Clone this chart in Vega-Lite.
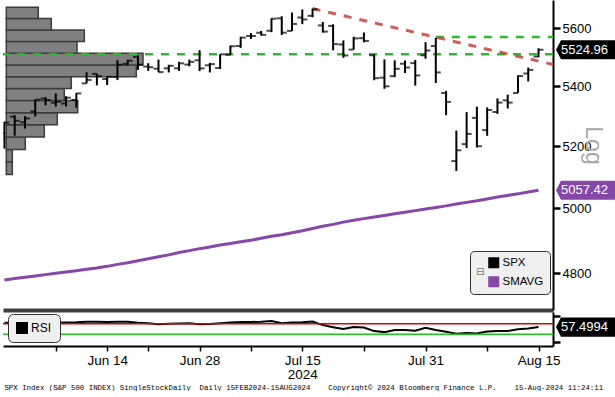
{
  "$schema": "https://vega.github.io/schema/vega-lite/v6.json",
  "padding": 0,
  "background": "white",
  "spacing": 2,
  "config": {"view": {"stroke": null}, "font": "Liberation Sans"},
  "title": {
    "text": "SPX Index (S&P 500 INDEX) SingleStockDaily\u00a0\u00a0Daily 15FEB2024-15AUG2024\u00a0\u00a0\u00a0\u00a0Copyright© 2024 Bloomberg Finance L.P.\u00a0\u00a0\u00a0\u00a015-Aug-2024 11:24:11",
    "orient": "bottom", "anchor": "start", "font": "Liberation Mono", "fontSize": 7.4,
    "fontWeight": "normal", "color": "#000000", "offset": 3, "dx": 4
  },
  "resolve": {"scale": {"color": "independent"}, "legend": {"color": "independent"}},
  "datasets": {
    "spx": [
      {"i":0,"o":5243.21,"h":5280.33,"l":5191.68,"c":5277.51,"ma":4780,"rsi":74},
      {"i":1,"o":5297.15,"h":5302.11,"l":5234.32,"c":5283.40,"ma":4784,"rsi":73},
      {"i":2,"o":5278.24,"h":5298.80,"l":5257.63,"c":5291.34,"ma":4788,"rsi":73},
      {"i":3,"o":5314.48,"h":5354.16,"l":5297.64,"c":5354.03,"ma":4792,"rsi":76},
      {"i":4,"o":5357.80,"h":5362.35,"l":5335.36,"c":5352.96,"ma":4796,"rsi":75},
      {"i":5,"o":5343.81,"h":5375.08,"l":5331.33,"c":5346.99,"ma":4800,"rsi":74},
      {"i":6,"o":5341.22,"h":5365.79,"l":5331.52,"c":5360.79,"ma":4804,"rsi":75},
      {"i":7,"o":5353.00,"h":5375.95,"l":5327.25,"c":5375.32,"ma":4808,"rsi":76},
      {"i":8,"o":5409.13,"h":5447.25,"l":5409.13,"c":5421.03,"ma":4812,"rsi":78},
      {"i":9,"o":5441.93,"h":5441.93,"l":5402.51,"c":5433.74,"ma":4816,"rsi":78},
      {"i":10,"o":5424.08,"h":5432.39,"l":5403.75,"c":5431.60,"ma":4821,"rsi":77},
      {"i":11,"o":5431.11,"h":5488.50,"l":5420.40,"c":5473.23,"ma":4827,"rsi":78},
      {"i":12,"o":5476.15,"h":5490.38,"l":5471.32,"c":5487.03,"ma":4832,"rsi":78},
      {"i":13,"o":5499.99,"h":5505.53,"l":5455.56,"c":5473.17,"ma":4838,"rsi":74},
      {"i":14,"o":5466.77,"h":5478.31,"l":5452.03,"c":5464.62,"ma":4844,"rsi":72},
      {"i":15,"o":5459.58,"h":5490.66,"l":5447.59,"c":5447.87,"ma":4850,"rsi":68},
      {"i":16,"o":5460.73,"h":5472.88,"l":5446.56,"c":5469.30,"ma":4856,"rsi":70},
      {"i":17,"o":5460.71,"h":5483.14,"l":5451.87,"c":5477.90,"ma":4863,"rsi":71},
      {"i":18,"o":5473.59,"h":5490.81,"l":5467.54,"c":5482.87,"ma":4869,"rsi":72},
      {"i":19,"o":5488.48,"h":5523.64,"l":5451.12,"c":5460.48,"ma":4875,"rsi":68},
      {"i":20,"o":5471.08,"h":5479.55,"l":5446.53,"c":5475.09,"ma":4880,"rsi":69},
      {"i":21,"o":5461.84,"h":5509.69,"l":5458.43,"c":5509.01,"ma":4886,"rsi":72},
      {"i":22,"o":5507.44,"h":5539.27,"l":5507.42,"c":5537.02,"ma":4891,"rsi":75},
      {"i":23,"o":5537.91,"h":5570.33,"l":5531.63,"c":5567.19,"ma":4896,"rsi":77},
      {"i":24,"o":5572.75,"h":5583.11,"l":5562.51,"c":5572.85,"ma":4901,"rsi":77},
      {"i":25,"o":5584.24,"h":5590.75,"l":5574.57,"c":5576.98,"ma":4907,"rsi":78},
      {"i":26,"o":5591.26,"h":5635.39,"l":5586.44,"c":5633.91,"ma":4913,"rsi":81},
      {"i":27,"o":5635.21,"h":5642.45,"l":5576.53,"c":5584.54,"ma":4918,"rsi":72},
      {"i":28,"o":5590.76,"h":5655.56,"l":5590.44,"c":5615.35,"ma":4924,"rsi":75},
      {"i":29,"o":5638.16,"h":5666.94,"l":5614.75,"c":5631.22,"ma":4930,"rsi":76},
      {"i":30,"o":5644.09,"h":5669.67,"l":5639.02,"c":5667.20,"ma":4937,"rsi":79},
      {"i":31,"o":5610.07,"h":5622.49,"l":5584.81,"c":5588.27,"ma":4944,"rsi":65},
      {"i":32,"o":5608.56,"h":5614.05,"l":5522.81,"c":5544.59,"ma":4950,"rsi":57},
      {"i":33,"o":5543.37,"h":5557.50,"l":5497.04,"c":5505.00,"ma":4957,"rsi":50},
      {"i":34,"o":5525.37,"h":5570.36,"l":5525.37,"c":5564.41,"ma":4963,"rsi":58},
      {"i":35,"o":5565.30,"h":5585.34,"l":5550.90,"c":5555.74,"ma":4968,"rsi":56},
      {"i":36,"o":5505.84,"h":5508.04,"l":5419.98,"c":5427.13,"ma":4973,"rsi":42},
      {"i":37,"o":5428.70,"h":5491.59,"l":5390.95,"c":5399.22,"ma":4978,"rsi":38},
      {"i":38,"o":5433.67,"h":5488.32,"l":5430.70,"c":5459.10,"ma":4983,"rsi":46},
      {"i":39,"o":5476.55,"h":5487.74,"l":5444.44,"c":5463.54,"ma":4988,"rsi":46},
      {"i":40,"o":5478.73,"h":5489.46,"l":5401.71,"c":5436.44,"ma":4993,"rsi":43},
      {"i":41,"o":5505.59,"h":5551.51,"l":5493.75,"c":5522.30,"ma":4998,"rsi":55},
      {"i":42,"o":5537.84,"h":5566.16,"l":5410.42,"c":5446.68,"ma":5003,"rsi":46},
      {"i":43,"o":5376.63,"h":5383.89,"l":5302.03,"c":5346.56,"ma":5008,"rsi":39},
      {"i":44,"o":5151.14,"h":5250.89,"l":5119.26,"c":5186.33,"ma":5014,"rsi":32},
      {"i":45,"o":5206.42,"h":5312.34,"l":5193.56,"c":5240.03,"ma":5019,"rsi":35},
      {"i":46,"o":5293.13,"h":5330.64,"l":5195.54,"c":5199.50,"ma":5024,"rsi":33},
      {"i":47,"o":5252.57,"h":5328.03,"l":5233.85,"c":5319.31,"ma":5030,"rsi":40},
      {"i":48,"o":5312.70,"h":5358.45,"l":5306.42,"c":5344.16,"ma":5036,"rsi":42},
      {"i":49,"o":5351.88,"h":5371.20,"l":5324.37,"c":5344.39,"ma":5041,"rsi":42},
      {"i":50,"o":5376.98,"h":5436.50,"l":5376.98,"c":5434.43,"ma":5046,"rsi":49},
      {"i":51,"o":5442.88,"h":5463.22,"l":5415.89,"c":5455.21,"ma":5052,"rsi":52},
      {"i":52,"o":5501.13,"h":5530.00,"l":5499.50,"c":5524.96,"ma":5057.42,"rsi":57.4994}
    ],
    "profile": [
      {"lo":5108,"hi":5148.5,"vol":0.6},
      {"lo":5148.5,"hi":5189,"vol":0.6},
      {"lo":5189,"hi":5229.5,"vol":1.9},
      {"lo":5229.5,"hi":5270,"vol":3.8},
      {"lo":5270,"hi":5310.5,"vol":5.1},
      {"lo":5310.5,"hi":5351,"vol":7.14},
      {"lo":5351,"hi":5391.5,"vol":5.8},
      {"lo":5391.5,"hi":5432,"vol":6.5},
      {"lo":5432,"hi":5472.5,"vol":13.0},
      {"lo":5472.5,"hi":5513,"vol":13.67},
      {"lo":5513,"hi":5553.5,"vol":7.07},
      {"lo":5553.5,"hi":5594,"vol":7.8},
      {"lo":5594,"hi":5634.5,"vol":4.5},
      {"lo":5634.5,"hi":5675,"vol":3.2}
    ],
    "poc": [{"v":5509.2}],
    "resist": [{"d0":42,"d1":53.41,"v":5569}],
    "trend": [{"i":30,"v":5670},{"i":53.41,"v":5474}],
    "tags": [
      {"series":"SPX","i":52,"v":5524.96,"label":"5524.96"},
      {"series":"SMAVG","i":52,"v":5057.42,"label":"5057.42"}
    ],
    "ob": [{"v":70}],
    "os": [{"v":30}],
    "rsitag": [{"series":"RSI","i":52,"v":57.4994,"label":"57.4994"}]
  },
  "vconcat": [
    {
      "width": 550,
      "height": 310,
      "resolve": {"scale": {"x": "independent"}},
      "layer": [
        {
          "data": {"name": "profile"},
          "mark": {"type": "rect", "fill": "#808080", "stroke": "#3c3c3c", "strokeWidth": 1.5},
          "encoding": {
            "x": {"field": "vol", "type": "quantitative", "scale": {"domain": [-0.33, 54.67], "nice": false, "zero": false}, "axis": null},
            "x2": {"datum": 0},
            "y": {"field": "lo", "type": "quantitative", "scale": {"type": "log", "domain": [4690.4, 5700.6], "nice": false, "zero": false},
                  "axis": {"orient": "right", "values": [4800, 5000, 5200, 5400, 5600], "format": "d", "grid": false,
                           "tickSize": 7, "tickWidth": 2.5, "tickColor": "#000000", "domainColor": "#000000", "domainWidth": 2,
                           "labelFont": "Liberation Sans", "labelFontSize": 13, "labelColor": "#000000", "labelPadding": 2,
                           "title": "Log", "titleAngle": 90, "titleColor": "#a8a8a8", "titleFont": "Liberation Sans", "titleFontSize": 23, "titleFontWeight": "normal",
                           "titleX": 39, "titleY": 145, "titleAlign": "center", "titleBaseline": "middle"}},
            "y2": {"field": "hi"}
          }
        },
        {
          "layer": [
            {
              "data": {"name": "spx"},
              "mark": {"type": "line", "color": "#8547a8", "strokeWidth": 3, "clip": true},
              "encoding": {
                "x": {"field": "i", "type": "quantitative", "scale": {"domain": [-0.14, 53.41], "nice": false, "zero": false},
                      "axis": {"orient": "bottom", "labels": false, "ticks": false, "grid": false, "title": null, "domain": true, "domainColor": "#3d3d3d", "domainWidth": 4}},
                "y": {"field": "ma", "type": "quantitative"}
              }
            },
            {
              "data": {"name": "poc"},
              "mark": {"type": "rule", "color": "#2db82d", "strokeWidth": 2.5, "strokeDash": [8, 8]},
              "encoding": {"y": {"field": "v", "type": "quantitative"}}
            },
            {
              "data": {"name": "resist"},
              "mark": {"type": "rule", "color": "#2db82d", "strokeWidth": 2.5, "strokeDash": [8, 8]},
              "encoding": {
                "x": {"field": "d0", "type": "quantitative"},
                "x2": {"field": "d1"},
                "y": {"field": "v", "type": "quantitative"}
              }
            },
            {
              "data": {"name": "trend"},
              "mark": {"type": "line", "color": "#c9403f", "opacity": 0.85, "strokeWidth": 3, "strokeDash": [8, 8], "clip": true},
              "encoding": {
                "x": {"field": "i", "type": "quantitative"},
                "y": {"field": "v", "type": "quantitative"}
              }
            },
            {
              "data": {"name": "spx"},
              "mark": {"type": "rule", "color": "#000000", "strokeWidth": 2, "clip": true},
              "encoding": {
                "x": {"field": "i", "type": "quantitative"},
                "y": {"field": "l", "type": "quantitative"},
                "y2": {"field": "h"}
              }
            },
            {
              "data": {"name": "spx"},
              "mark": {"type": "tick", "orient": "horizontal", "color": "#000000", "size": 5, "thickness": 2, "xOffset": -2.5, "clip": true},
              "encoding": {
                "x": {"field": "i", "type": "quantitative"},
                "y": {"field": "o", "type": "quantitative"}
              }
            },
            {
              "data": {"name": "spx"},
              "mark": {"type": "tick", "orient": "horizontal", "color": "#000000", "size": 5, "thickness": 2, "xOffset": 2.5, "clip": true},
              "encoding": {
                "x": {"field": "i", "type": "quantitative"},
                "y": {"field": "c", "type": "quantitative"}
              }
            },
            {
              "data": {"name": "tags"},
              "mark": {"type": "point", "shape": "M-1,0L-0.84,-0.31L1,-0.31L1,0.31L-0.84,0.31Z", "size": 3844, "filled": true, "opacity": 1, "xOffset": 48.5, "clip": false},
              "encoding": {
                "x": {"field": "i", "type": "quantitative"},
                "y": {"field": "v", "type": "quantitative"},
                "color": {"field": "series", "type": "nominal",
                          "scale": {"domain": ["SPX", "SMAVG"], "range": ["#000000", "#8547a8"]},
                          "legend": {"orient": "none", "legendX": 467, "legendY": 251, "title": "⊟", "titleOrient": "left",
                                     "titleFont": "DejaVu Sans", "titleFontSize": 10, "titleColor": "#777777", "titleFontWeight": "normal", "titlePadding": 3,
                                     "symbolType": "square", "symbolSize": 121, "symbolStrokeWidth": 0, "symbolOpacity": 1,
                                     "labelFont": "Liberation Sans", "labelFontSize": 11.5, "labelColor": "#000000", "labelOffset": 3,
                                     "fillColor": "#f0f0f0", "strokeColor": "#333333", "cornerRadius": 4, "padding": 6, "rowPadding": 6}}
              }
            },
            {
              "data": {"name": "tags"},
              "mark": {"type": "text", "color": "#ffffff", "font": "Liberation Sans", "fontSize": 13, "align": "center", "baseline": "middle", "xOffset": 46, "clip": false},
              "encoding": {
                "x": {"field": "i", "type": "quantitative"},
                "y": {"field": "v", "type": "quantitative"},
                "text": {"field": "label"}
              }
            }
          ]
        }
      ]
    },
    {
      "width": 550,
      "height": 34,
      "layer": [
        {
          "data": {"name": "spx"},
          "mark": {"type": "line", "color": "#000000", "strokeWidth": 2},
          "encoding": {
            "x": {"field": "i", "type": "quantitative", "scale": {"domain": [-0.14, 53.41], "nice": false, "zero": false},
                  "axis": {"orient": "bottom", "values": [5, 10, 14, 19, 24, 29, 35, 41, 47, 52], "grid": false, "title": null,
                           "labelExpr": "datum.value == 10 ? 'Jun 14' : datum.value == 19 ? 'Jun 28' : datum.value == 29 ? ['Jul 15', '2024'] : datum.value == 41 ? 'Jul 31' : datum.value == 52 ? 'Aug 15' : ''",
                           "tickSize": 5, "tickWidth": 1.5, "tickColor": "#000000", "domainColor": "#000000", "domainWidth": 2,
                           "labelFont": "Liberation Sans", "labelFontSize": 13.5, "labelColor": "#000000", "labelPadding": 2, "labelLineHeight": 14,
                           "labelOverlap": false, "labelFlush": false, "labelBound": false}},
            "y": {"field": "rsi", "type": "quantitative", "scale": {"domain": [-15.4, 115.4], "nice": false, "zero": false},
                  "axis": {"orient": "right", "values": [0, 100], "labels": false, "grid": false, "title": null,
                           "tickSize": 7, "tickWidth": 2.5, "tickColor": "#000000", "domainColor": "#000000", "domainWidth": 2}}
          }
        },
        {
          "data": {"name": "ob"},
          "mark": {"type": "rule", "color": "#e00000", "strokeWidth": 1.5},
          "encoding": {"y": {"field": "v", "type": "quantitative"}}
        },
        {
          "data": {"name": "os"},
          "mark": {"type": "rule", "color": "#22c422", "strokeWidth": 1.5},
          "encoding": {"y": {"field": "v", "type": "quantitative"}}
        },
        {
          "data": {"name": "rsitag"},
          "mark": {"type": "point", "shape": "M-1,0L-0.84,-0.31L1,-0.31L1,0.31L-0.84,0.31Z", "size": 3844, "filled": true, "opacity": 1, "xOffset": 48.5, "clip": false},
          "encoding": {
            "x": {"field": "i", "type": "quantitative"},
            "y": {"field": "v", "type": "quantitative"},
            "color": {"field": "series", "type": "nominal",
                      "scale": {"domain": ["RSI"], "range": ["#000000"]},
                      "legend": {"orient": "none", "legendX": 5, "legendY": 2, "title": null,
                                 "symbolType": "square", "symbolSize": 144, "symbolStrokeWidth": 0, "symbolOpacity": 1,
                                 "labelFont": "Liberation Sans", "labelFontSize": 12, "labelColor": "#000000", "labelOffset": 3,
                                 "fillColor": "#f0f0f0", "strokeColor": "#333333", "cornerRadius": 5, "padding": 8}}
          }
        },
        {
          "data": {"name": "rsitag"},
          "mark": {"type": "text", "color": "#ffffff", "font": "Liberation Sans", "fontSize": 13, "align": "center", "baseline": "middle", "xOffset": 46, "clip": false},
          "encoding": {
            "x": {"field": "i", "type": "quantitative"},
            "y": {"field": "v", "type": "quantitative"},
            "text": {"field": "label"}
          }
        }
      ]
    }
  ]
}
